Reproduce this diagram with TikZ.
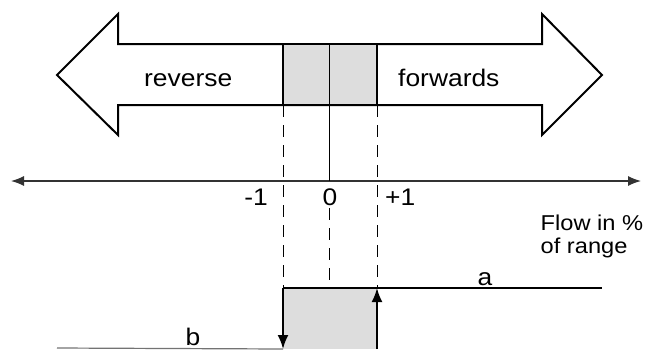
\documentclass[tikz,border=0pt]{standalone}
\usepackage{fontspec}
\setmainfont{Liberation Sans}[FakeStretch=1.1]
\usetikzlibrary{arrows.meta}
\definecolor{boxgray}{HTML}{DDDDDD}

\begin{document}
\begin{tikzpicture}[
    x=1pt, y=-1pt,
    bigarrow/.style={draw=black, line width=2pt, line join=miter},
    band/.style={draw=black, line width=2pt, fill=boxgray},
    guide/.style={draw=black, line width=0.9pt, dash pattern=on 12pt off 8pt},
    axis/.style={line width=1.3pt, black!80,
                 {Latex[length=13pt,width=10pt]}-{Latex[length=13pt,width=10pt]}},
    step line/.style={line width=2pt},
    flowarr/.style={line width=2pt, -{Latex[length=14pt,width=11pt]}},
    lbl/.style={font=\fontsize{24}{27}\selectfont, inner sep=0pt},
    unitlbl/.style={font=\fontsize{21.5}{23}\selectfont, inner sep=0pt},
]
\useasboundingbox (0,0) rectangle (645,349);

% Big double arrow
\draw[bigarrow] (57,75) -- (118,14) -- (118,44) -- (542,44) -- (542,14)
    -- (602,75) -- (542,135) -- (542,105) -- (118,105) -- (118,135) -- cycle;
\node[lbl, anchor=base west] (rev) at (144,86.7) {reverse};
\node[lbl, anchor=base west] (fwd) at (398,86.7) {forwards};

% Dead band in the arrow
\coordinate (bandNW) at (283,44);
\coordinate (bandSE) at (377,105);
\coordinate (midtop) at (329,44);
\draw[band] (bandNW) rectangle (bandSE);

% Axis
\coordinate (axL) at (11,181);
\coordinate (axR) at (641,181);
\coordinate (axzero) at (329,181);
\draw[axis] (axL) -- (axR);
\draw[line width=0.9pt] (midtop) -- (axzero);

\node[lbl, anchor=base] (m1) at (256,205) {-1};
\node[lbl, anchor=base] (zero) at (330,205) {0};
\node[lbl, anchor=base west] (p1) at (385,205) {+1};
\node[unitlbl, anchor=base west] (flow) at (540.5,230.7) {Flow in \%};
\node[unitlbl, anchor=base west] (range) at (540.5,253.3) {of range};

% Switching curve
\coordinate (lowL) at (283,349);
\coordinate (lowR) at (377,349);
\coordinate (hiL) at (283,288);
\coordinate (hiR) at (377,288);
\coordinate (hiM) at (329,288);
\coordinate (aend) at (602,288);
\coordinate (bstart) at (57,348);

\fill[boxgray] (hiL) rectangle (lowR);

\draw[guide] (bandNW |- bandSE) -- (hiL);
\draw[guide] (bandSE) -- (hiR);
\draw[guide] (329,208) -- (hiM);

\draw[step line] (hiL) -- (aend);
\draw[line width=1.2pt, black!55] (bstart) -- (lowL);
\draw[flowarr] (hiL) -- (lowL);
\draw[flowarr] (lowR) -- (hiR);

\node[lbl, anchor=base] (alab) at (485,285) {a};
\node[lbl, anchor=base] (blab) at (193,345) {b};

\end{tikzpicture}
\end{document}
